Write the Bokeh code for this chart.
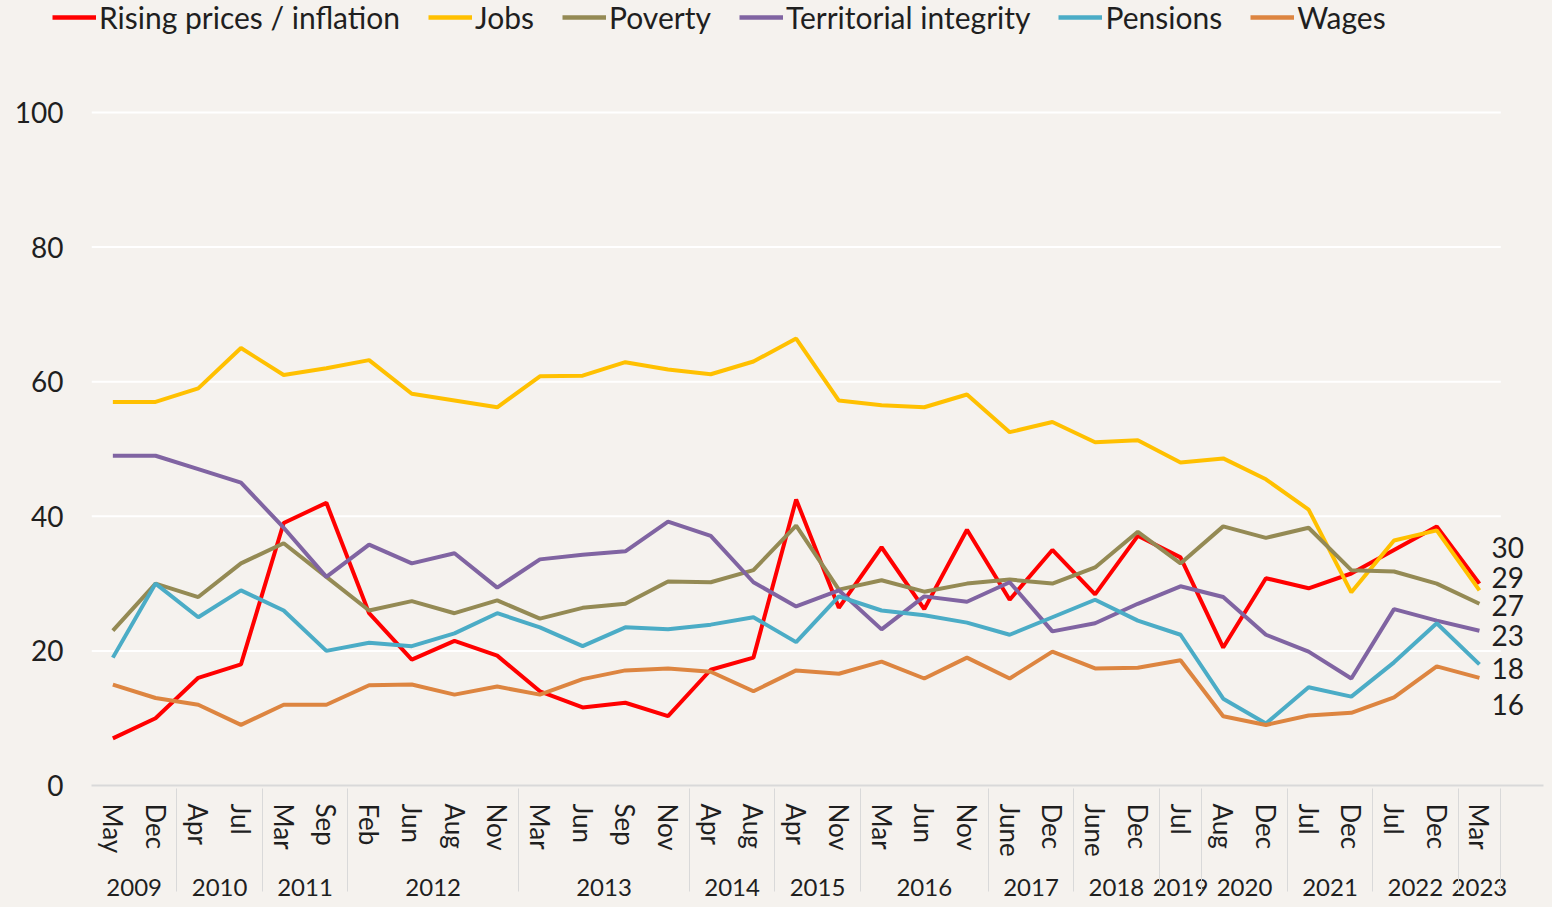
from bokeh.plotting import figure
from bokeh.layouts import column
from bokeh.core.properties import value
from bokeh.models import (FactorRange, Range1d, ColumnDataSource, Legend, LegendItem,
                          LabelSet, FixedTicker)
from bokeh.embed import file_html
from bokeh.resources import INLINE

years = ["2009", "2009", "2010", "2010", "2011", "2011", "2012", "2012", "2012", "2012",
         "2013", "2013", "2013", "2013", "2014", "2014", "2015", "2015", "2016", "2016", "2016",
         "2017", "2017", "2018", "2018", "2019", "2020", "2020", "2021", "2021", "2022", "2022", "2023"]
months = ["May", "Dec", "Apr", "Jul", "Mar", "Sep", "Feb", "Jun", "Aug", "Nov",
          "Mar", "Jun", "Sep", "Nov", "Apr", "Aug", "Apr", "Nov", "Mar", "Jun", "Nov",
          "June", "Dec", "June", "Dec", "Jul", "Aug", "Dec", "Jul", "Dec", "Jul", "Dec", "Mar"]

rising_prices = [7, 10, 16, 18, 39, 42, 25.6, 18.7, 21.5, 19.3, 14, 11.6, 12.3, 10.3, 17.2, 19,
                 42.5, 26.4, 35.4, 26.2, 38, 27.6, 35, 28.4, 37.1, 33.9, 20.5, 30.8, 29.3, 31.5,
                 35, 38.5, 30]
jobs = [57, 57, 59, 65, 61, 62, 63.2, 58.2, 57.2, 56.2, 60.8, 60.9, 62.9, 61.8, 61.1, 63,
        66.4, 57.2, 56.5, 56.2, 58.1, 52.5, 54, 51, 51.3, 48, 48.6, 45.5, 41, 28.7,
        36.4, 37.9, 29]
poverty = [23, 30, 28, 33, 36, 31, 26, 27.4, 25.6, 27.5, 24.8, 26.4, 27, 30.3, 30.2, 32,
           38.6, 29.1, 30.5, 28.8, 30, 30.6, 30, 32.4, 37.7, 33, 38.5, 36.8, 38.3, 32,
           31.8, 30, 27]
territorial = [49, 49, 47, 45, 38.3, 31, 35.8, 33, 34.5, 29.4, 33.6, 34.3, 34.8, 39.2, 37.1, 30.2,
               26.6, 29, 23.2, 28.1, 27.3, 30.2, 22.9, 24.1, 27, 29.6, 28, 22.4, 19.9, 15.9,
               26.2, 24.5, 23]
pensions = [19, 30, 25, 29, 26, 20, 21.2, 20.7, 22.6, 25.6, 23.5, 20.7, 23.5, 23.2, 23.9, 25,
            21.3, 28.1, 26, 25.3, 24.2, 22.4, 25, 27.6, 24.5, 22.4, 12.9, 9.2, 14.6, 13.2,
            18.3, 24.1, 18]
wages = [15, 13, 12, 9, 12, 12, 14.9, 15, 13.5, 14.7, 13.5, 15.8, 17.1, 17.4, 16.9, 14,
         17.1, 16.6, 18.4, 15.9, 19, 15.9, 19.9, 17.4, 17.5, 18.6, 10.3, 9, 10.4, 10.8,
         13.1, 17.7, 16]

series_names = ["Rising prices / inflation", "Jobs", "Poverty", "Territorial integrity", "Pensions", "Wages"]
series_values = [rising_prices, jobs, poverty, territorial, pensions, wages]
series_colors = ["#FF0000", "#FFC000", "#948A54", "#8064A2", "#4BACC6", "#DD8540"]

end_labels = ["30", "29", "27", "23", "18", "16"]
end_label_pos = [35.4, 30.9, 26.7, 22.3, 17.4, 12.0]

y_ticks = [0, 20, 40, 60, 80, 100]

FONT = "Lato"
TEXT = "#1F1F1F"
BG = "#F5F2EE"
NAN = float("nan")

factors = list(zip(years, months))
blank = (" ", " ")  # empty slot on the right that holds the end labels

# ---------- main chart ----------
p = figure(width=1552, height=863, output_backend="svg", toolbar_location=None,
           x_range=FactorRange(*(factors + [blank]), range_padding=0, group_padding=0,
                               factor_padding=0, subgroup_padding=0),
           y_range=Range1d(0, 110.1),
           min_border_left=91, min_border_right=9, min_border_top=0, min_border_bottom=122)
p.frame_align = False
p.background_fill_color = BG
p.border_fill_color = BG
p.outline_line_color = None
p.grid.visible = False

grid_src = ColumnDataSource(dict(x0=[0] * (len(y_ticks) - 1), x1=[len(factors)] * (len(y_ticks) - 1),
                                 y=y_ticks[1:]))
p.segment(x0="x0", x1="x1", y0="y", y1="y", source=grid_src, line_color="white", line_width=2)

p.yaxis.ticker = FixedTicker(ticks=y_ticks)
p.yaxis.axis_line_color = None
p.yaxis.major_tick_line_color = None
p.yaxis.minor_tick_line_color = None
p.yaxis.major_label_text_font = FONT
p.yaxis.major_label_text_font_size = "28px"
p.yaxis.major_label_text_color = TEXT
p.yaxis.major_label_standoff = 22

xa = p.xaxis[0]
xa.axis_line_color = "#D9D9D9"
xa.axis_line_width = 2
xa.major_tick_line_color = None
xa.minor_tick_line_color = None
xa.major_label_orientation = "vertical"
xa.major_label_text_font = FONT
xa.major_label_text_font_size = "26px"
xa.major_label_text_color = TEXT
xa.major_label_standoff = 12
xa.group_text_font = FONT
xa.group_text_font_size = "24px"
xa.group_text_color = TEXT
xa.group_text_font_style = "normal"
xa.separator_line_color = "#D9D9D9"
xa.separator_line_width = 1

for name, vals, col in zip(series_names, series_values, series_colors):
    src = ColumnDataSource(dict(x=factors, y=vals))
    p.line("x", "y", source=src, line_color=col, line_width=4)

lab_src = ColumnDataSource(dict(x=[factors[-1]] * len(end_labels), y=end_label_pos, t=end_labels))
p.add_layout(LabelSet(x="x", y="y", text="t", source=lab_src, x_offset=12,
                      text_font=value(FONT), text_font_size=value("28px"), text_color=TEXT,
                      text_baseline="middle", text_align="left"))

# ---------- legend strip ----------
pl = figure(width=1552, height=44, output_backend="svg", toolbar_location=None,
            x_range=Range1d(0, 1), y_range=Range1d(0, 1), x_axis_type=None, y_axis_type=None,
            min_border=0)
pl.frame_align = False
pl.background_fill_color = BG
pl.border_fill_color = BG
pl.outline_line_color = None
pl.grid.visible = False
items = []
for name, col in zip(series_names, series_colors):
    r = pl.line(x=[NAN, NAN], y=[NAN, NAN], line_color=col, line_width=4.5)
    items.append(LegendItem(label=name, renderers=[r]))
legend = Legend(items=items, orientation="horizontal", location=(52, 9),
                label_text_font=FONT, label_text_font_size="30px", label_text_color=TEXT,
                glyph_width=44, glyph_height=30, label_standoff=3, spacing=28,
                padding=0, margin=0, background_fill_alpha=0, border_line_color=None,
                label_height=30)
pl.add_layout(legend)

layout = column(pl, p, spacing=0, styles={"background-color": BG})
open("out.html", "w").write(file_html(layout, INLINE))
